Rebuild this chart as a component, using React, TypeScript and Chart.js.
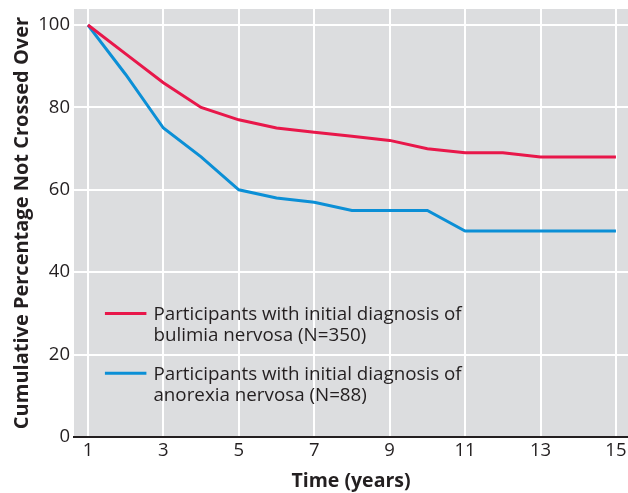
import React, { useEffect, useRef } from "react";
import { Chart, registerables } from "chart.js";

Chart.register(...registerables);

const years = [1, 2, 3, 4, 5, 6, 7, 8, 9, 10, 11, 12, 13, 14, 15];
const bulimia = [100, 93, 86, 80, 77, 75, 74, 73, 72, 70, 69, 69, 68, 68, 68];
const anorexia = [100, 88, 75, 68, 60, 58, 57, 55, 55, 55, 50, 50, 50, 50, 50];
const xTicks = [1, 3, 5, 7, 9, 11, 13, 15];
const yTicks = [0, 20, 40, 60, 80, 100];
const legendLines = [
  ["Participants with initial diagnosis of", "bulimia nervosa (N=350)"],
  ["Participants with initial diagnosis of", "anorexia nervosa (N=88)"],
];
const seriesNames = [legendLines[0].join(" "), legendLines[1].join(" ")];
const xTitle = "Time (years)";
const yTitle = "Cumulative Percentage Not Crossed Over";

const RED = "#e8174a";
const BLUE = "#0b8fd6";
const FONT = "'Open Sans', sans-serif";

const bgPlugin = {
  id: "bgPlugin",
  beforeDraw(chart: any) {
    const { ctx, chartArea } = chart;
    ctx.save();
    ctx.fillStyle = "#dcdddf";
    ctx.fillRect(chartArea.left, chartArea.top, chartArea.right - chartArea.left, chartArea.bottom - chartArea.top);
    ctx.restore();
  },
};

const legendPlugin = {
  id: "customLegend",
  afterDatasetsDraw(chart: any) {
    const { ctx } = chart;
    const xs = chart.scales.x;
    const ys = chart.scales.y;
    const colors = [RED, BLUE];
    const anchorsY = [30, 15.5];
    ctx.save();
    ctx.font = `18.8px ${FONT}`;
    ctx.fillStyle = "#231f20";
    ctx.textBaseline = "middle";
    legendLines.forEach((lines, i) => {
      const y0 = ys.getPixelForValue(anchorsY[i]);
      const lx0 = xs.getPixelForValue(1.45);
      const lx1 = xs.getPixelForValue(2.55);
      ctx.strokeStyle = colors[i];
      ctx.lineWidth = 3;
      ctx.beginPath();
      ctx.moveTo(lx0, y0);
      ctx.lineTo(lx1, y0);
      ctx.stroke();
      lines.forEach((t, j) => {
        ctx.fillText(t, lx1 + 7, y0 + 1 + j * 21);
      });
    });
    ctx.restore();
  },
};

export default function App() {
  const ref = useRef<HTMLCanvasElement>(null);
  useEffect(() => {
    document.body.style.margin = "0";
    const chart = new Chart(ref.current!, {
      type: "line",
      data: {
        labels: years,
        datasets: [
          {
            label: seriesNames[0],
            data: years.map((x, i) => ({ x, y: bulimia[i] })),
            borderColor: RED,
            borderWidth: 3,
            pointRadius: 0,
            tension: 0,
          },
          {
            label: seriesNames[1],
            data: years.map((x, i) => ({ x, y: anorexia[i] })),
            borderColor: BLUE,
            borderWidth: 3,
            pointRadius: 0,
            tension: 0,
          },
        ],
      },
      options: {
        animation: false,
        responsive: false,
        layout: { padding: { top: 9, right: 0, left: 0, bottom: 0 } },
        plugins: { legend: { display: false }, tooltip: { enabled: false } },
        scales: {
          x: {
            type: "linear",
            min: 0.63,
            max: 15.32,
            afterBuildTicks: (s: any) => {
              s.ticks = xTicks.map((v) => ({ value: v }));
            },
            afterFit: (s: any) => {
              s.height = 56;
              s.paddingLeft = 0;
              s.paddingRight = 0;
            },
            grid: { color: "#ffffff", lineWidth: 2, drawTicks: false },
            border: { color: "#231f20", width: 2 },
            ticks: {
              color: "#231f20",
              font: { family: FONT, size: 18.5 },
              padding: 3,
              maxRotation: 0,
              autoSkip: false,
            },
            title: {
              display: true,
              text: xTitle,
              color: "#231f20",
              font: { family: FONT, size: 19.5, weight: "bold" },
              padding: { top: 0, bottom: 0 },
            },
          },
          y: {
            min: 0,
            max: 103.9,
            afterBuildTicks: (s: any) => {
              s.ticks = yTicks.map((v) => ({ value: v }));
            },
            afterFit: (s: any) => {
              s.width = 74;
              s.paddingTop = 0;
              s.paddingBottom = 0;
            },
            grid: { color: "#ffffff", lineWidth: 2, drawTicks: false },
            border: { display: false },
            ticks: {
              color: "#231f20",
              font: { family: FONT, size: 18.5 },
              padding: 4,
            },
            title: {
              display: true,
              text: yTitle,
              color: "#231f20",
              font: { family: FONT, size: 20, weight: "bold" },
              padding: { top: 10, bottom: 0 },
            },
          },
        },
      },
      plugins: [bgPlugin, legendPlugin],
    } as any);
    return () => chart.destroy();
  }, []);
  return <canvas ref={ref} width={628} height={493} style={{ display: "block" }} />;
}
